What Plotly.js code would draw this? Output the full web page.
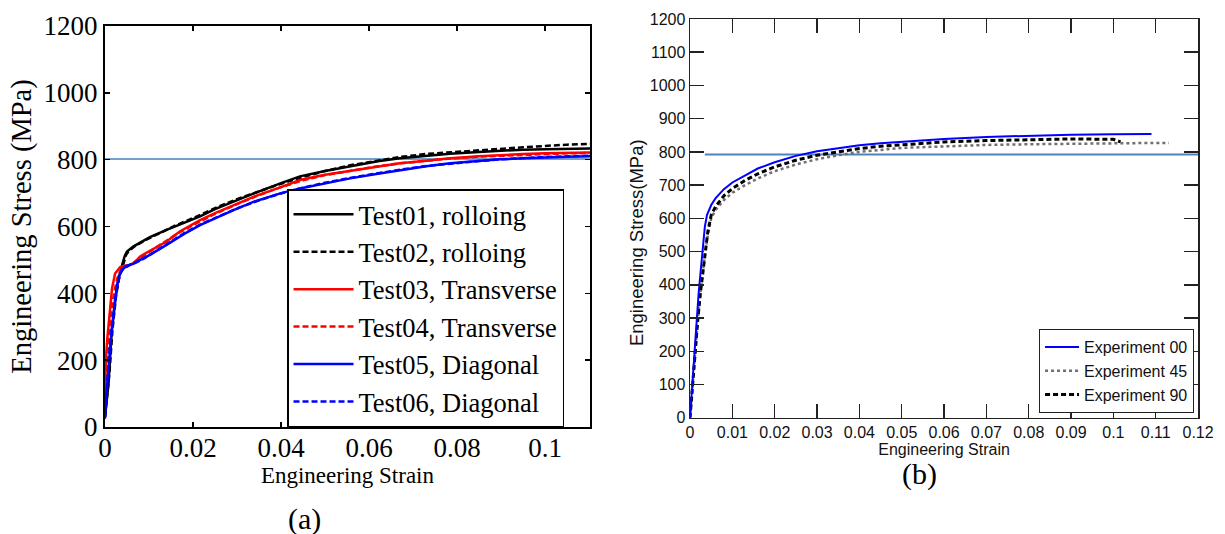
<!DOCTYPE html>
<html>
<head>
<meta charset="utf-8">
<script src="https://cdn.plot.ly/plotly-3.0.1.min.js"></script>
<style>html,body{margin:0;padding:0;background:#fff;}#chart{width:1225px;height:534px;}</style>
</head>
<body>
<div id="chart"></div>
<script>
// ---------- Panel (a) data ----------
const test01X = [0, 0.0004, 0.0008, 0.0015, 0.0023, 0.003, 0.0035, 0.004, 0.0045, 0.005, 0.0064, 0.008, 0.0102, 0.014, 0.018, 0.0216, 0.025, 0.0292, 0.034, 0.04, 0.0443, 0.05, 0.0557, 0.062, 0.067, 0.073, 0.0784, 0.085, 0.0898, 0.095, 0.1, 0.105, 0.112];
const test01Y = [30, 80, 130, 280, 380, 440, 468, 490, 512, 525, 540, 552, 568, 590, 612, 630, 652, 675, 700, 730, 750, 766, 780, 795, 804, 812, 818, 823, 827, 830, 831, 832, 834];

const test02X = [0, 0.0005, 0.001, 0.0017, 0.0025, 0.0032, 0.0038, 0.0043, 0.0048, 0.0055, 0.007, 0.009, 0.012, 0.016, 0.02, 0.025, 0.03, 0.035, 0.04, 0.045, 0.05, 0.056, 0.062, 0.067, 0.073, 0.078, 0.085, 0.09, 0.095, 0.1, 0.105, 0.112];
const test02Y = [30, 90, 160, 290, 390, 445, 472, 495, 515, 528, 543, 558, 578, 603, 625, 655, 682, 705, 728, 748, 766, 784, 798, 808, 817, 822, 829, 833, 837, 841, 845, 848];

const test03X = [0, 0.0002, 0.0005, 0.0008, 0.0012, 0.0016, 0.0023, 0.003, 0.0034, 0.0042, 0.0055, 0.0065, 0.008, 0.0095, 0.012, 0.014, 0.017, 0.0216, 0.025, 0.0292, 0.034, 0.04, 0.0443, 0.05, 0.0557, 0.062, 0.067, 0.073, 0.0784, 0.085, 0.0898, 0.095, 0.1, 0.105, 0.112];
const test03Y = [100, 200, 260, 310, 370, 415, 459, 470, 478, 482, 485, 490, 510, 522, 540, 555, 585, 619, 640, 664, 690, 718, 739, 755, 766, 779, 789, 797, 804, 810, 814, 817, 819, 821, 822];

const test04X = [0, 0.0003, 0.0007, 0.0011, 0.0016, 0.0022, 0.0028, 0.0034, 0.004, 0.005, 0.006, 0.0075, 0.009, 0.011, 0.014, 0.017, 0.02, 0.025, 0.03, 0.035, 0.04, 0.045, 0.05, 0.056, 0.062, 0.067, 0.073, 0.078, 0.085, 0.09, 0.095, 0.1, 0.105, 0.112];
const test04Y = [60, 150, 230, 300, 360, 410, 445, 465, 474, 480, 487, 500, 515, 532, 558, 583, 604, 638, 667, 694, 718, 738, 754, 768, 780, 789, 797, 803, 809, 812, 815, 817, 819, 820];

const test05X = [0, 0.0002, 0.0006, 0.0011, 0.0015, 0.0019, 0.0023, 0.0027, 0.0032, 0.0038, 0.0049, 0.0064, 0.008, 0.0102, 0.014, 0.018, 0.0216, 0.025, 0.0292, 0.034, 0.04, 0.0443, 0.05, 0.0557, 0.062, 0.067, 0.073, 0.0784, 0.085, 0.0898, 0.095, 0.1, 0.105, 0.112];
const test05Y = [25, 80, 140, 230, 290, 330, 380, 420, 450, 470, 482, 488, 500, 515, 545, 578, 604, 625, 649, 675, 700, 714, 730, 744, 758, 769, 780, 789, 796, 801, 804, 807, 809, 811];

const test06X = [0, 0.0003, 0.0007, 0.0012, 0.0017, 0.0021, 0.0025, 0.003, 0.0035, 0.0042, 0.0055, 0.007, 0.009, 0.011, 0.014, 0.018, 0.022, 0.026, 0.03, 0.035, 0.04, 0.045, 0.05, 0.056, 0.062, 0.067, 0.073, 0.078, 0.085, 0.09, 0.095, 0.1, 0.105, 0.112];
const test06Y = [30, 100, 170, 250, 310, 360, 400, 435, 460, 474, 484, 492, 505, 522, 548, 580, 608, 632, 654, 678, 699, 716, 731, 746, 760, 770, 781, 788, 796, 801, 805, 808, 810, 812];

const refLineAX = [0, 0.1102];
const refLineAY = [802, 802];

const namesA = ["Test01, rolloing", "Test02, rolloing", "Test03, Transverse", "Test04, Transverse", "Test05, Diagonal", "Test06, Diagonal"];
const tickValsA = [0, 0.02, 0.04, 0.06, 0.08, 0.1];
const tickTextA = ["0", "0.02", "0.04", "0.06", "0.08", "0.1"];

// ---------- Panel (b) data ----------
const exp00X = [0, 0.0005, 0.001, 0.0015, 0.002, 0.0025, 0.003, 0.0035, 0.004, 0.005, 0.006, 0.008, 0.01, 0.013, 0.016, 0.02, 0.025, 0.03, 0.035, 0.04, 0.045, 0.05, 0.06, 0.07, 0.08, 0.09, 0.1, 0.109];
const exp00Y = [0, 100, 200, 290, 370, 440, 520, 575, 610, 640, 660, 688, 708, 730, 750, 769, 788, 802, 812, 820, 826, 831, 839, 845, 849, 852, 853, 854];

const exp45X = [0, 0.0006, 0.0012, 0.0018, 0.0024, 0.003, 0.0036, 0.0042, 0.005, 0.006, 0.008, 0.01, 0.013, 0.016, 0.02, 0.025, 0.03, 0.035, 0.04, 0.05, 0.06, 0.07, 0.08, 0.09, 0.1, 0.11, 0.1131];
const exp45Y = [0, 100, 200, 290, 370, 440, 500, 550, 600, 625, 655, 677, 700, 720, 742, 762, 778, 790, 800, 812, 817, 821, 823, 825, 826, 827, 827];

const exp90X = [0, 0.0006, 0.0012, 0.0018, 0.0024, 0.003, 0.0036, 0.0042, 0.005, 0.006, 0.008, 0.01, 0.013, 0.016, 0.02, 0.025, 0.03, 0.035, 0.04, 0.045, 0.05, 0.06, 0.07, 0.08, 0.09, 0.1, 0.1017];
const exp90Y = [0, 100, 200, 290, 370, 440, 500, 560, 610, 635, 668, 690, 714, 734, 755, 775, 790, 801, 810, 817, 822, 830, 834, 837, 839, 838, 830];

const refLineBX = [0.0035, 0.121];
const refLineBY = [792, 792];

const namesB = ["Experiment 00", "Experiment 45", "Experiment 90"];

// ---------- traces ----------
const serif = "Liberation Serif, Times New Roman, serif";
const sans = "Liberation Sans, Arial, sans-serif";
const dashA = "6px,3px";

const traces = [
  {x: refLineAX, y: refLineAY, xaxis: "x", yaxis: "y", mode: "lines", line: {color: "#4a7ebb", width: 1.5}, showlegend: false, hoverinfo: "skip"},
  {x: test01X, y: test01Y, name: namesA[0], xaxis: "x", yaxis: "y", mode: "lines", line: {color: "#000000", width: 2.5}},
  {x: test02X, y: test02Y, name: namesA[1], xaxis: "x", yaxis: "y", mode: "lines", line: {color: "#000000", width: 2.5, dash: dashA}},
  {x: test03X, y: test03Y, name: namesA[2], xaxis: "x", yaxis: "y", mode: "lines", line: {color: "#ff0000", width: 2.5}},
  {x: test04X, y: test04Y, name: namesA[3], xaxis: "x", yaxis: "y", mode: "lines", line: {color: "#ff0000", width: 2.5, dash: dashA}},
  {x: test05X, y: test05Y, name: namesA[4], xaxis: "x", yaxis: "y", mode: "lines", line: {color: "#0000ff", width: 2.5}},
  {x: test06X, y: test06Y, name: namesA[5], xaxis: "x", yaxis: "y", mode: "lines", line: {color: "#0000ff", width: 2.5, dash: dashA}},

  {x: refLineBX, y: refLineBY, xaxis: "x2", yaxis: "y2", mode: "lines", line: {color: "#4f81bd", width: 2}, showlegend: false, hoverinfo: "skip"},
  {x: exp45X, y: exp45Y, name: namesB[1], legend: "legend2", legendrank: 2, xaxis: "x2", yaxis: "y2", mode: "lines", line: {color: "#707070", width: 2.5, dash: "dot"}},
  {x: exp90X, y: exp90Y, name: namesB[2], legend: "legend2", legendrank: 3, xaxis: "x2", yaxis: "y2", mode: "lines", line: {color: "#000000", width: 3, dash: "5px,3px"}},
  {x: exp00X, y: exp00Y, name: namesB[0], legend: "legend2", legendrank: 1, xaxis: "x2", yaxis: "y2", mode: "lines", line: {color: "#0000ff", width: 2}}
];

const axA = {
  showline: true, linecolor: "#000", linewidth: 2, mirror: "ticks",
  ticks: "inside", ticklen: 5, tickwidth: 1.5, tickcolor: "#000",
  showgrid: false, zeroline: false
};
const axB = {
  showline: true, linecolor: "#222", linewidth: 1.5, mirror: "ticks",
  ticks: "inside", ticklen: 14, tickwidth: 1.5, tickcolor: "#222",
  showgrid: false, zeroline: false
};

const layout = {
  width: 1225, height: 534,
  margin: {l: 0, r: 0, t: 0, b: 0},
  paper_bgcolor: "#ffffff", plot_bgcolor: "#ffffff",
  showlegend: true,
  xaxis: Object.assign({}, axA, {
    domain: [0.0857, 0.4816], range: [0, 0.1102], anchor: "y",
    tickmode: "array", tickvals: tickValsA, ticktext: tickTextA,
    ticklabelstandoff: -4,
    tickfont: {family: serif, size: 27, color: "#000"},
    title: {text: "Engineering Strain", font: {family: serif, size: 23, color: "#000"}, standoff: 2}
  }),
  yaxis: Object.assign({}, axA, {
    domain: [0.2004, 0.9513], range: [0, 1200], anchor: "x", dtick: 200,
    tickfont: {family: serif, size: 27, color: "#000"},
    title: {text: "Engineering Stress (MPa)", font: {family: serif, size: 28.5, color: "#000"}, standoff: 4}
  }),
  xaxis2: Object.assign({}, axB, {
    domain: [0.5633, 0.978], range: [0, 0.12], anchor: "y2", dtick: 0.01,
    tickfont: {family: sans, size: 16, color: "#111"},
    title: {text: "Engineering Strain", font: {family: sans, size: 16, color: "#111"}, standoff: 2}
  }),
  yaxis2: Object.assign({}, axB, {
    domain: [0.2178, 0.9644], range: [0, 1200], anchor: "x2", dtick: 100,
    tickfont: {family: sans, size: 16, color: "#111"}
  }),
  legend: {
    x: 0.2343, y: 0.4232, xanchor: "left", yanchor: "middle",
    bgcolor: "#ffffff", bordercolor: "#000", borderwidth: 1.5,
    font: {family: serif, size: 26.5, color: "#000"}, tracegroupgap: 0,
    itemwidth: 60
  },
  legend2: {
    x: 0.8482, y: 0.2266, xanchor: "left", yanchor: "bottom",
    bgcolor: "#ffffff", bordercolor: "#222", borderwidth: 1,
    font: {family: sans, size: 16, color: "#111"}, tracegroupgap: 0,
    itemwidth: 34, traceorder: "normal"
  },
  annotations: [
    {text: "(a)", xref: "paper", yref: "paper", x: 0.2482, y: 0.0281, xanchor: "center", yanchor: "middle", showarrow: false, font: {family: serif, size: 30, color: "#000"}},
    {text: "(b)", xref: "paper", yref: "paper", x: 0.751, y: 0.1124, xanchor: "center", yanchor: "middle", showarrow: false, font: {family: serif, size: 30, color: "#000"}},
    {text: "Engineering Stress(MPa)", xref: "paper", yref: "paper", x: 0.5192, y: 0.5449, xanchor: "center", yanchor: "middle", textangle: -90, showarrow: false, font: {family: sans, size: 18.5, color: "#111"}}
  ]
};

Plotly.newPlot("chart", traces, layout, {staticPlot: true, displayModeBar: false});
</script>
</body>
</html>
